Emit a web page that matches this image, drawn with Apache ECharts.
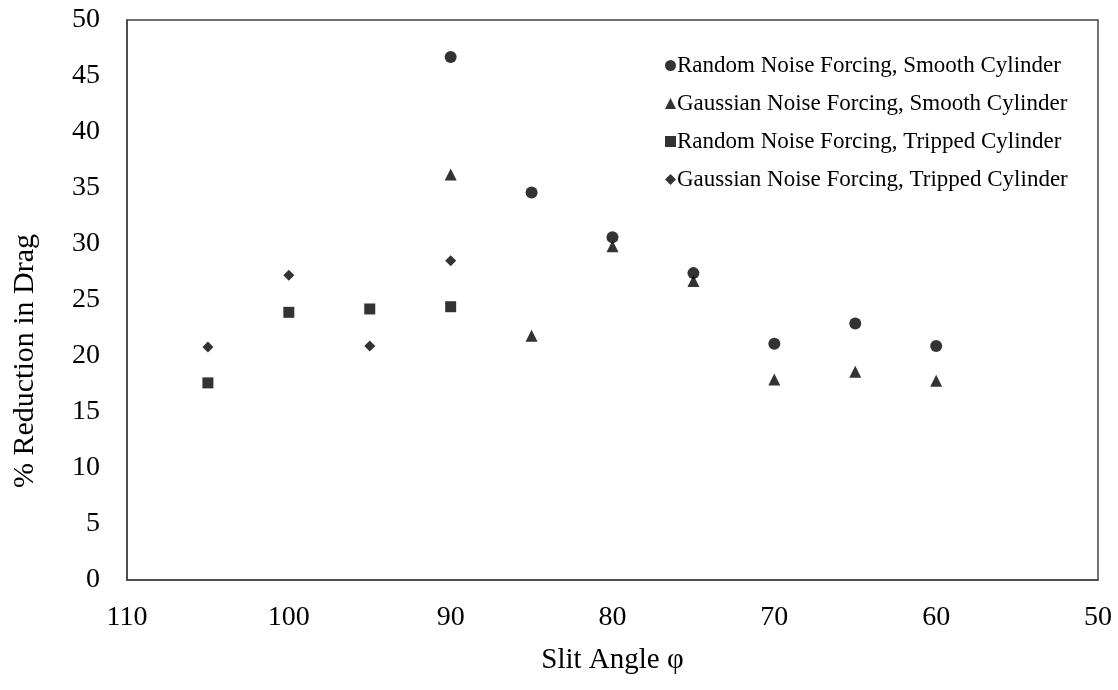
<!DOCTYPE html>
<html>
<head>
<meta charset="utf-8">
<script src="https://cdn.jsdelivr.net/npm/echarts@6/dist/echarts.min.js"></script>
<style>html,body{margin:0;padding:0;background:#fff;}#c{width:1118px;height:690px;}</style>
</head>
<body>
<div id="c"></div>
<script>
var seriesNames = [
  'Random Noise Forcing, Smooth Cylinder',
  'Gaussian Noise Forcing, Smooth Cylinder',
  'Random Noise Forcing, Tripped Cylinder',
  'Gaussian Noise Forcing, Tripped Cylinder'
];
var smoothAngles = [90, 85, 80, 75, 70, 65, 60];
var randomSmooth = [46.7, 34.6, 30.6, 27.4, 21.1, 22.9, 20.9];
var gaussianSmooth = [36.2, 21.8, 29.8, 26.7, 17.9, 18.6, 17.8];
var trippedAngles = [105, 100, 95, 90];
var randomTripped = [17.6, 23.9, 24.2, 24.4];
var gaussianTripped = [20.8, 27.2, 20.9, 28.5];
var yTicks = [0, 5, 10, 15, 20, 25, 30, 35, 40, 45, 50];
var xTicks = [110, 100, 90, 80, 70, 60, 50];

function pairs(xs, ys) { return xs.map(function (x, i) { return [x, ys[i]]; }); }

var font = 'Liberation Serif';
var symbols = ['circle', 'triangle', 'rect', 'diamond'];
var sizes = [12, 12, 11, 11];
var datas = [
  pairs(smoothAngles, randomSmooth),
  pairs(smoothAngles, gaussianSmooth),
  pairs(trippedAngles, randomTripped),
  pairs(trippedAngles, gaussianTripped)
];

var chart = echarts.init(document.getElementById('c'), null, {renderer: 'canvas'});
chart.setOption({
  animation: false,
  backgroundColor: '#fff',
  grid: {left: 127, right: 20, top: 20, bottom: 110, show: true, borderColor: '#444', borderWidth: 1.5, backgroundColor: 'transparent'},
  legend: {
    orient: 'vertical', left: 660, top: 49,
    itemWidth: 11, itemHeight: 11, itemGap: 15,
    textStyle: {fontFamily: font, fontSize: 23, color: '#000', padding: [0, 0, 0, -4]},
    data: seriesNames.map(function (n, i) { return {name: n, icon: symbols[i]}; })
  },
  xAxis: {
    type: 'value', min: 50, max: 110, interval: 10, inverse: true,
    name: 'Slit Angle φ', nameLocation: 'middle', nameGap: 66,
    nameTextStyle: {fontFamily: font, fontSize: 29, color: '#000'},
    axisLine: {show: true, lineStyle: {color: '#444', width: 1.5}},
    axisTick: {show: false}, splitLine: {show: false},
    axisLabel: {fontFamily: font, fontSize: 28, color: '#000', margin: 24,
      formatter: function (v) { return xTicks.indexOf(v) >= 0 ? String(v) : ''; }}
  },
  yAxis: {
    type: 'value', min: 0, max: 50, interval: 5,
    name: '% Reduction in Drag', nameLocation: 'middle', nameGap: 87,
    nameTextStyle: {fontFamily: font, fontSize: 30, color: '#000', padding: [0, 122, 0, 0]},
    axisLine: {show: true, lineStyle: {color: '#444', width: 1.5}},
    axisTick: {show: false}, splitLine: {show: false},
    axisLabel: {fontFamily: font, fontSize: 28, color: '#000', margin: 27,
      formatter: function (v) { return yTicks.indexOf(v) >= 0 ? String(v) : ''; }}
  },
  series: seriesNames.map(function (n, i) {
    return {
      name: n, type: 'scatter', data: datas[i],
      symbol: symbols[i], symbolSize: sizes[i],
      itemStyle: {color: '#000'}
    };
  })
});
</script>
</body>
</html>
